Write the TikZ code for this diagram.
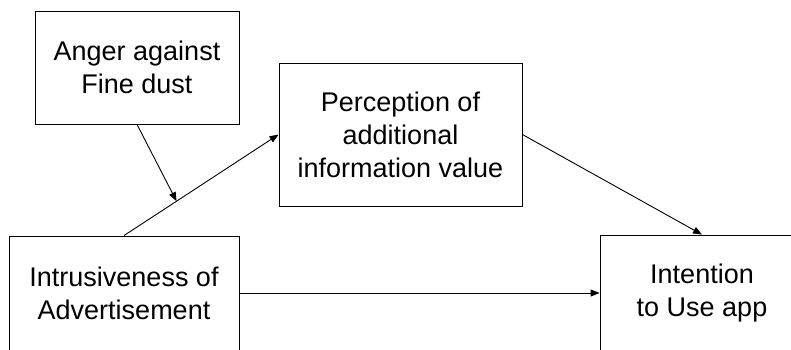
\documentclass[tikz,border=0pt]{standalone}
\usepackage{fontspec}
\setmainfont{Liberation Sans}
\usetikzlibrary{arrows.meta}

\begin{document}
\begin{tikzpicture}[x = 1pt, y = -1pt, >={Triangle[length=9pt, width=7pt]}]
            \tikzstyle{var} = [draw=black, line width=0.9pt, align=center, inner sep=0pt, font=\fontsize{27}{33}\selectfont];
            \tikzstyle{link} = [->, line width=0.9pt]
            \clip (0, 0) rectangle (791, 349);

            \node [var, minimum width=204pt, minimum height=113pt] (anger) at (137, 67.5) {Anger against\\Fine dust};
            \node [var, minimum width=243pt, minimum height=143pt] (perc) at (400.5, 134.5) {Perception of\\additional\\information value};
            \node [var, minimum width=230pt, minimum height=114pt] (intr) at (124, 293) {Intrusiveness of\\Advertisement};
            \node [var, minimum width=204pt, minimum height=116pt] (use) at (702, 293) {Intention\\to Use app};

            \path (intr.north) -- (perc.west) coordinate [pos=0.34] (mod);

            \draw [link] (intr.north) to (perc.west);
            \draw [link] (perc.east) to (use.north);
            \draw [link] (intr.east) to (use.west);
            \draw [link] (anger.south) to (mod);
        \end{tikzpicture}
\end{document}
